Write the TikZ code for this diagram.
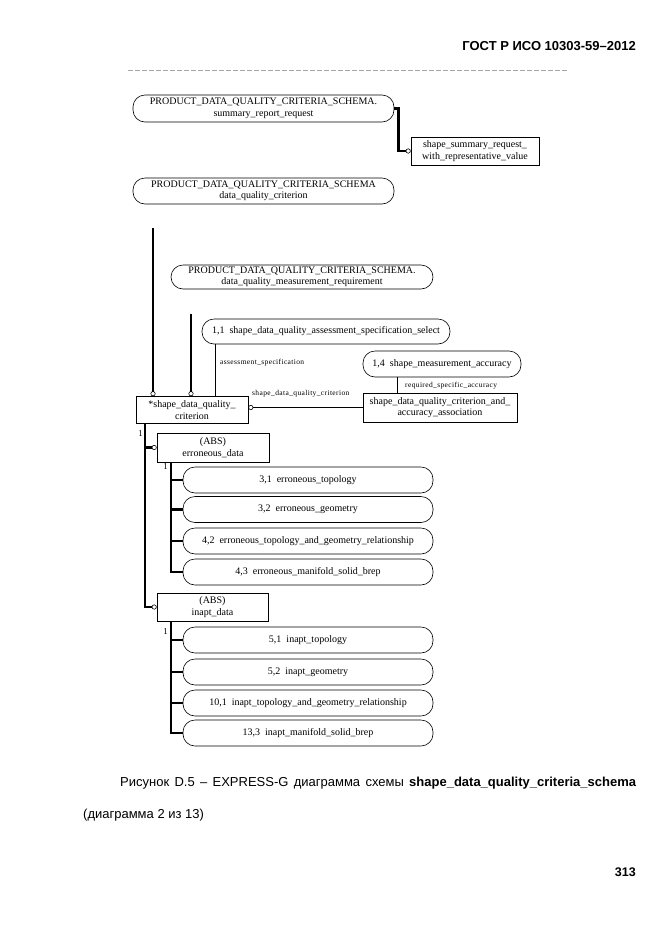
\documentclass[tikz,border=0pt]{standalone}
\usepackage{fontspec}
\setmainfont{Liberation Serif}
\newfontfamily\capfont{Liberation Sans}
\newfontfamily\lblfont[LetterSpace=5]{Liberation Serif}
\usetikzlibrary{arrows.meta}

\tikzset{
  ent/.style={draw, line width=0.6pt, rectangle, align=center, inner sep=1pt,
    font=\fontsize{10}{11.5}\selectfont},
  entbox/.style={ent, minimum width=#1, minimum height=28pt},
  tyround/.style={ent, rounded corners=12pt, minimum width=#1, minimum height=26pt},
  thickrel/.style={line width=2.4pt},
  thinrel/.style={line width=0.7pt},
  opt/.style={-{Circle[open, line width=0.6pt, length=5pt, width=5pt]}},
  lbl/.style={font=\lblfont\fontsize{7.5}{8}\selectfont, inner sep=0pt},
  pagetext/.style={font=\capfont\fontsize{13}{15}\selectfont, inner sep=0pt},
}

\begin{document}
\begin{tikzpicture}[x=1pt, y=-1pt]
\useasboundingbox (0,0) rectangle (661,935);

% page header
\node[pagetext, anchor=east, font=\capfont\bfseries\fontsize{13}{15}\selectfont] (gost) at (636,46) {ГОСТ Р ИСО 10303-59–2012};
\draw[gray!70, line width=0.5pt, dash pattern=on 5pt off 2pt] (128,70) -- (567,70);

% upper part
\node[tyround=261pt, minimum height=27pt] (sumreq) at (263.5,108.5)
  {PRODUCT\_DATA\_QUALITY\_CRITERIA\_SCHEMA.\\summary\_report\_request};
\node[entbox=128pt] (shapesum) at (475,151)
  {shape\_summary\_request\_\\with\_representative\_value};
\draw[thickrel, opt] (sumreq.east) -- ++(4,0) |- (shapesum.west);

\node[tyround=261pt] (dqc) at (263.5,191)
  {PRODUCT\_DATA\_QUALITY\_CRITERIA\_SCHEMA\\data\_quality\_criterion};
\node[tyround=262pt, minimum height=24pt] (dqmr) at (302,277)
  {PRODUCT\_DATA\_QUALITY\_CRITERIA\_SCHEMA.\\data\_quality\_measurement\_requirement};

\node[tyround=248pt, minimum height=25pt] (assess) at (326,331.5)
  {1,1\ \ shape\_data\_quality\_assessment\_specification\_select};
\node[tyround=158pt] (accur) at (442,364)
  {1,4\ \ shape\_measurement\_accuracy};
\node[entbox=154pt, minimum height=29pt] (assoc) at (440,407.5)
  {shape\_data\_quality\_criterion\_and\_\\accuracy\_association};
\node[entbox=112pt, minimum height=27pt] (crit) at (192,410)
  {*shape\_data\_quality\_\\criterion};

% page references coming down to the supertype
\coordinate (dqcref) at (153,228);
\coordinate (dqmrref) at (191,314);
\draw[thickrel, opt] (dqcref) -- (dqcref |- crit.north);
\draw[thickrel, opt] (dqmrref) -- (dqmrref |- crit.north);

% attributes
\draw[thinrel] ([xshift=14pt]assess.south west) -- ([xshift=14pt]assess.south west |- crit.north);
\node[lbl, anchor=west] (asslbl) at (220,363) {assessment\_specification};
\draw[thinrel] ([xshift=35pt]accur.south west) -- ([xshift=35pt]accur.south west |- assoc.north);
\node[lbl, anchor=west] (acclbl) at (405,386) {required\_specific\_accuracy};
\draw[thinrel, opt] (assoc.west) -- (assoc.west -| crit.east);
\node[lbl, anchor=west] (critlbl) at (252,394) {shape\_data\_quality\_criterion};

% subtypes
\node[entbox=112pt, minimum height=29pt] (errdata) at (213,447.5) {(ABS)\\erroneous\_data};
\node[entbox=111pt] (inapt) at (212.5,607) {(ABS)\\inapt\_data};
\coordinate (trunk) at ([xshift=9pt]crit.south west);
\draw[thickrel, opt] (trunk) |- (inapt.west);
\draw[thickrel, opt] (trunk |- errdata.west) -- (errdata.west);
\node[font=\fontsize{9}{10}\selectfont, inner sep=0pt, anchor=east] (one) at (143,434) {1};

\foreach \name/\ypos/\txt in {
  et/480/{3,1\ \ erroneous\_topology},
  eg/509.5/{3,2\ \ erroneous\_geometry},
  etg/541/{4,2\ \ erroneous\_topology\_and\_geometry\_relationship},
  ems/572/{4,3\ \ erroneous\_manifold\_solid\_brep},
  it/640/{5,1\ \ inapt\_topology},
  ig/672/{5,2\ \ inapt\_geometry},
  itg/703/{10,1\ \ inapt\_topology\_and\_geometry\_relationship},
  ims/733/{13,3\ \ inapt\_manifold\_solid\_brep}}
  \node[tyround=250pt] (\name) at (308,\ypos) {\txt};

\coordinate (etrunk) at ([xshift=14pt]errdata.south west);
\draw[thickrel] (etrunk) |- (ems.west);
\foreach \name in {et,eg,etg}
  \draw[thickrel] (etrunk |- \name.west) -- (\name.west);
\node[font=\fontsize{9}{10}\selectfont, inner sep=0pt, anchor=east] (eone) at (168,467) {1};

\coordinate (itrunk) at ([xshift=14pt]inapt.south west);
\draw[thickrel] (itrunk) |- (ims.west);
\foreach \name in {it,ig,itg}
  \draw[thickrel] (itrunk |- \name.west) -- (\name.west);
\node[font=\fontsize{9}{10}\selectfont, inner sep=0pt, anchor=east] (ione) at (168,632) {1};

% caption
\node[pagetext, anchor=west] (cap) at (120,783)
  {\makebox[516pt][s]{Рисунок D.5 – EXPRESS-G диаграмма схемы \textbf{shape\_data\_quality\_criteria\_schema}}};
\node[pagetext, anchor=west] (cap2) at (83,815) {(диаграмма 2 из 13)};
\node[pagetext, anchor=east, font=\capfont\bfseries\fontsize{12.5}{15}\selectfont] (pageno) at (636,872) {313};
\end{tikzpicture}
\end{document}
